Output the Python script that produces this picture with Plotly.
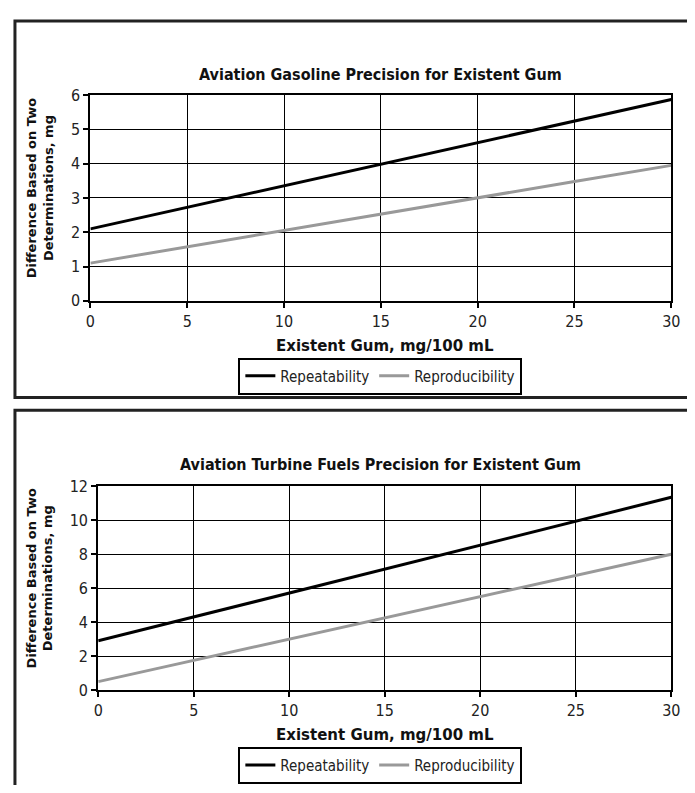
import plotly.graph_objects as go

# page is drawn inside the default 8px body margin, so the figure is sized
# to fit the 695x793 window without scrolling and positions are page-based.
PAGE_W, PAGE_H = 695, 793
OFF = 8
W, H = PAGE_W - OFF, PAGE_H - 2 * OFF

# ---- data ----
gum_x = [0, 5, 10, 15, 20, 25, 30]
avgas_repeatability = [2.10, 2.73, 3.36, 3.99, 4.61, 5.24, 5.87]
avgas_reproducibility = [1.10, 1.58, 2.05, 2.53, 3.00, 3.48, 3.95]
turbine_repeatability = [2.90, 4.31, 5.72, 7.13, 8.54, 9.95, 11.35]
turbine_reproducibility = [0.50, 1.75, 3.00, 4.25, 5.50, 6.75, 8.00]

title_top = "Aviation Gasoline Precision for Existent Gum"
title_bottom = "Aviation Turbine Fuels Precision for Existent Gum"
x_title = "Existent Gum, mg/100 mL"
y_title = "Difference Based on Two<br>Determinations, mg"
series_names = ["Repeatability", "Reproducibility"]

COND = "DejaVu Sans Condensed, DejaVu Sans, sans-serif"
BOLD = "DejaVu Sans, Verdana, sans-serif"
C_REP = "#000000"
C_REPRO = "#999999"


def px(x):
    return (x - OFF) / W


def py(y):
    return 1 - (y - OFF) / H


fig = go.Figure()

fig.add_trace(go.Scatter(x=gum_x, y=avgas_repeatability, mode="lines", name=series_names[0],
                         line=dict(color=C_REP, width=3), xaxis="x", yaxis="y", legend="legend"))
fig.add_trace(go.Scatter(x=gum_x, y=avgas_reproducibility, mode="lines", name=series_names[1],
                         line=dict(color=C_REPRO, width=3), xaxis="x", yaxis="y", legend="legend"))
fig.add_trace(go.Scatter(x=gum_x, y=turbine_repeatability, mode="lines", name=series_names[0],
                         line=dict(color=C_REP, width=3), xaxis="x2", yaxis="y2", legend="legend2"))
fig.add_trace(go.Scatter(x=gum_x, y=turbine_reproducibility, mode="lines", name=series_names[1],
                         line=dict(color=C_REPRO, width=3), xaxis="x2", yaxis="y2", legend="legend2"))

axis_common = dict(showline=True, mirror=True, linecolor="black", linewidth=2,
                   showgrid=True, gridcolor="black", gridwidth=1,
                   ticks="outside", ticklen=5, tickwidth=1.5, tickcolor="black",
                   zeroline=False, fixedrange=True,
                   tickfont=dict(family=COND, size=16, color="#222"))

legend_common = dict(orientation="h", xanchor="center", yanchor="middle",
                     bordercolor="black", borderwidth=2, bgcolor="white",
                     font=dict(family=COND, size=15, color="#222"),
                     itemwidth=30, tracegroupgap=0)

fig.update_layout(
    width=W, height=H,
    margin=dict(l=0, r=0, t=0, b=0),
    paper_bgcolor="white", plot_bgcolor="white",
    xaxis=dict(domain=[px(87), px(680)], range=[0, 30], dtick=5, anchor="y", **axis_common),
    yaxis=dict(domain=[py(299), py(88)], range=[0, 6], dtick=1, anchor="x", **axis_common),
    xaxis2=dict(domain=[px(95), px(680)], range=[0, 30], dtick=5, anchor="y2", **axis_common),
    yaxis2=dict(domain=[py(698), py(489)], range=[0, 12], dtick=2, anchor="x2", **axis_common),
    legend=dict(x=px(383), y=py(376), **legend_common),
    legend2=dict(x=px(383), y=py(775), **legend_common),
    showlegend=True,
)

shapes = [
    dict(type="rect", xref="paper", yref="paper", x0=px(10), x1=1.05, y0=py(398), y1=py(12),
         line=dict(color="#222", width=3), layer="below"),
    dict(type="rect", xref="paper", yref="paper", x0=px(10), x1=1.05, y0=-0.05, y1=py(411),
         line=dict(color="#222", width=3), layer="below"),
]
fig.update_layout(shapes=shapes)

ann = []
for t, ty, xt, yt in [(title_top, 67, 345, 183), (title_bottom, 467, 744, 583)]:
    ann.append(dict(text="<b>" + t + "</b>", x=px(383), y=py(ty), xref="paper", yref="paper",
                    showarrow=False, xanchor="center", yanchor="middle",
                    font=dict(family=COND, size=16, color="#111")))
    ann.append(dict(text="<b>" + x_title + "</b>", x=px(388), y=py(xt), xref="paper", yref="paper",
                    showarrow=False, xanchor="center", yanchor="middle",
                    font=dict(family=BOLD, size=15, color="#111")))
    ann.append(dict(text="<b>" + y_title + "</b>", x=px(35), y=py(yt), xref="paper", yref="paper",
                    showarrow=False, xanchor="center", yanchor="middle", textangle=-90,
                    font=dict(family=BOLD, size=13, color="#111")))
fig.update_layout(annotations=ann)

fig.write_html("out.html")
